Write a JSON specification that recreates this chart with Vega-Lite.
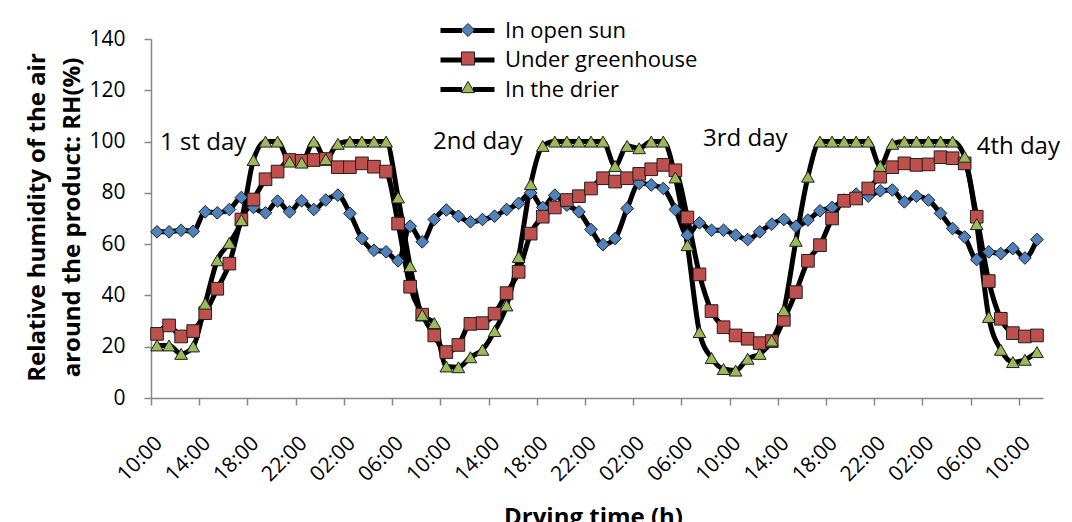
{
  "$schema": "https://vega.github.io/schema/vega-lite/v6.json",
  "width": 892,
  "height": 359,
  "autosize": "none",
  "padding": {"left": 151, "top": 39, "right": 29, "bottom": 124},
  "background": "white",
  "config": {
    "font": "Open Sans",
    "view": {"stroke": null},
    "axis": {"grid": false, "domainColor": "#868686", "tickColor": "#868686", "domainWidth": 1.5, "tickWidth": 1.5, "tickSize": 7, "labelColor": "black", "titleColor": "black", "labelFontSize": 21}
  },
  "data": {
    "values": [
      {"t":0,"In open sun":64.8,"Under greenhouse":25,"In the drier":20.5},
      {"t":1,"In open sun":64.8,"Under greenhouse":28.3,"In the drier":20.5},
      {"t":2,"In open sun":65.4,"Under greenhouse":24,"In the drier":17.2},
      {"t":3,"In open sun":65,"Under greenhouse":26.1,"In the drier":20.1},
      {"t":4,"In open sun":72.6,"Under greenhouse":33.1,"In the drier":36.8},
      {"t":5,"In open sun":72.2,"Under greenhouse":42.6,"In the drier":53.7},
      {"t":6,"In open sun":73.5,"Under greenhouse":52.4,"In the drier":60.5},
      {"t":7,"In open sun":78.2,"Under greenhouse":69.6,"In the drier":69.4},
      {"t":8,"In open sun":74.3,"Under greenhouse":77.4,"In the drier":92.8},
      {"t":9,"In open sun":72.2,"Under greenhouse":85.3,"In the drier":100},
      {"t":10,"In open sun":76.8,"Under greenhouse":88.3,"In the drier":100},
      {"t":11,"In open sun":72.6,"Under greenhouse":92.8,"In the drier":92.2},
      {"t":12,"In open sun":76.9,"Under greenhouse":92.5,"In the drier":91.8},
      {"t":13,"In open sun":73.5,"Under greenhouse":92.8,"In the drier":100},
      {"t":14,"In open sun":77.2,"Under greenhouse":93.2,"In the drier":93.1},
      {"t":15,"In open sun":79.1,"Under greenhouse":90,"In the drier":99.1},
      {"t":16,"In open sun":72,"Under greenhouse":90,"In the drier":100},
      {"t":17,"In open sun":62.2,"Under greenhouse":91.5,"In the drier":100},
      {"t":18,"In open sun":57.6,"Under greenhouse":90.2,"In the drier":100},
      {"t":19,"In open sun":57,"Under greenhouse":88.3,"In the drier":100},
      {"t":20,"In open sun":53.5,"Under greenhouse":68,"In the drier":78.2},
      {"t":21,"In open sun":67,"Under greenhouse":43.4,"In the drier":51.4},
      {"t":22,"In open sun":60.9,"Under greenhouse":32.5,"In the drier":32.4},
      {"t":23,"In open sun":69.6,"Under greenhouse":24.4,"In the drier":29.2},
      {"t":24,"In open sun":73.3,"Under greenhouse":17.9,"In the drier":12.3},
      {"t":25,"In open sun":70.9,"Under greenhouse":20.7,"In the drier":12},
      {"t":26,"In open sun":68.7,"Under greenhouse":28.9,"In the drier":15.9},
      {"t":27,"In open sun":69.6,"Under greenhouse":29.2,"In the drier":18.8},
      {"t":28,"In open sun":70.9,"Under greenhouse":32.9,"In the drier":26.1},
      {"t":29,"In open sun":73.5,"Under greenhouse":40.9,"In the drier":36.1},
      {"t":30,"In open sun":75.9,"Under greenhouse":49.2,"In the drier":55},
      {"t":31,"In open sun":80,"Under greenhouse":64.1,"In the drier":83.4},
      {"t":32,"In open sun":74.3,"Under greenhouse":70.7,"In the drier":98.3},
      {"t":33,"In open sun":79.1,"Under greenhouse":74.3,"In the drier":100},
      {"t":34,"In open sun":75.2,"Under greenhouse":77.2,"In the drier":100},
      {"t":35,"In open sun":72.6,"Under greenhouse":78.7,"In the drier":100},
      {"t":36,"In open sun":65.7,"Under greenhouse":81.7,"In the drier":100},
      {"t":37,"In open sun":59.8,"Under greenhouse":85.7,"In the drier":100},
      {"t":38,"In open sun":62.2,"Under greenhouse":84.4,"In the drier":90.5},
      {"t":39,"In open sun":73.9,"Under greenhouse":85.7,"In the drier":98.3},
      {"t":40,"In open sun":83.7,"Under greenhouse":87.4,"In the drier":97.4},
      {"t":41,"In open sun":83.1,"Under greenhouse":89.2,"In the drier":100},
      {"t":42,"In open sun":81.7,"Under greenhouse":90.9,"In the drier":100},
      {"t":43,"In open sun":73.5,"Under greenhouse":88.8,"In the drier":86},
      {"t":44,"In open sun":63.5,"Under greenhouse":70.4,"In the drier":59.6},
      {"t":45,"In open sun":68.3,"Under greenhouse":48.2,"In the drier":25.7},
      {"t":46,"In open sun":65.4,"Under greenhouse":33.9,"In the drier":15.6},
      {"t":47,"In open sun":65.4,"Under greenhouse":27.6,"In the drier":11.3},
      {"t":48,"In open sun":63.5,"Under greenhouse":24.4,"In the drier":10.7},
      {"t":49,"In open sun":61.8,"Under greenhouse":23.1,"In the drier":15.3},
      {"t":50,"In open sun":64.8,"Under greenhouse":21.4,"In the drier":17.2},
      {"t":51,"In open sun":67.8,"Under greenhouse":22.2,"In the drier":22.4},
      {"t":52,"In open sun":69.6,"Under greenhouse":30.5,"In the drier":34.2},
      {"t":53,"In open sun":67,"Under greenhouse":41.3,"In the drier":61.3},
      {"t":54,"In open sun":69.4,"Under greenhouse":53.5,"In the drier":86.3},
      {"t":55,"In open sun":73,"Under greenhouse":59.6,"In the drier":100},
      {"t":56,"In open sun":74.3,"Under greenhouse":70,"In the drier":100},
      {"t":57,"In open sun":77.2,"Under greenhouse":76.9,"In the drier":100},
      {"t":58,"In open sun":79.5,"Under greenhouse":77.8,"In the drier":100},
      {"t":59,"In open sun":78.7,"Under greenhouse":81.7,"In the drier":100},
      {"t":60,"In open sun":80.8,"Under greenhouse":86.3,"In the drier":90.5},
      {"t":61,"In open sun":81.1,"Under greenhouse":90,"In the drier":99.1},
      {"t":62,"In open sun":76.5,"Under greenhouse":91.5,"In the drier":100},
      {"t":63,"In open sun":78.7,"Under greenhouse":90.9,"In the drier":100},
      {"t":64,"In open sun":77.2,"Under greenhouse":91.1,"In the drier":100},
      {"t":65,"In open sun":72,"Under greenhouse":93.9,"In the drier":100},
      {"t":66,"In open sun":66.1,"Under greenhouse":93.5,"In the drier":100},
      {"t":67,"In open sun":62.8,"Under greenhouse":91.5,"In the drier":94.1},
      {"t":68,"In open sun":54,"Under greenhouse":70.7,"In the drier":67.8},
      {"t":69,"In open sun":57,"Under greenhouse":45.6,"In the drier":31.6},
      {"t":70,"In open sun":56.3,"Under greenhouse":30.9,"In the drier":18.8},
      {"t":71,"In open sun":58.3,"Under greenhouse":25.3,"In the drier":14},
      {"t":72,"In open sun":54.6,"Under greenhouse":24,"In the drier":14.9},
      {"t":73,"In open sun":61.8,"Under greenhouse":24.4,"In the drier":17.9}
    ]
  },
  "layer": [
    {
      "transform": [{"fold": ["In open sun", "Under greenhouse", "In the drier"], "as": ["series", "rh"]}],
      "mark": {"type": "line", "interpolate": "monotone", "strokeWidth": 5, "strokeJoin": "round"},
      "encoding": {
        "x": {
          "field": "t", "type": "quantitative",
          "scale": {"domain": [-0.5, 73.5], "nice": false, "zero": false},
          "axis": {
            "values": [-0.5,1.5,3.5,5.5,7.5,9.5,11.5,13.5,15.5,17.5,19.5,21.5,23.5,25.5,27.5,29.5,31.5,33.5,35.5,37.5,39.5,41.5,43.5,45.5,47.5,49.5,51.5,53.5,55.5,57.5,59.5,61.5,63.5,65.5,67.5,69.5,71.5,73.5],
            "labelExpr": "(datum.value + 0.5) % 4 == 0 ? (((10 + datum.value + 0.5) % 24 < 10 ? '0' : '') + ((10 + datum.value + 0.5) % 24) + ':00') : ''",
            "labelAngle": -45, "labelAlign": "right", "labelBaseline": "top",
            "labelDx": 2.5, "labelDy": 2.5, "labelOverlap": false, "labelBound": false, "labelFlush": false,
            "labelPadding": 27,
            "title": "Drying time (h)", "titleFontSize": 24, "titleFontWeight": "bold",
            "titleX": 442, "titleY": 107, "titleBaseline": "top"
          }
        },
        "y": {
          "field": "rh", "type": "quantitative",
          "scale": {"domain": [0, 140], "nice": false},
          "axis": {
            "values": [0,20,40,60,80,100,120,140],
            "labelPadding": 19,
            "title": ["Relative humidity of the air", "around the product: RH(%)"],
            "titleFontSize": 24, "titleFontWeight": "bold", "titleAngle": 270,
            "titleX": -114, "titleY": 178, "titleAlign": "center", "titleBaseline": "middle", "titleLineHeight": 35
          }
        },
        "stroke": {
          "field": "series", "type": "nominal", "sort": ["In open sun", "Under greenhouse", "In the drier"],
          "scale": {"range": ["#000000", "#000000", "#000000"]},
          "legend": {
            "orient": "none", "legendX": 305, "legendY": -20, "title": null, "padding": 0, "zindex": 1,
            "symbolType": "M-3,0H-0.6M0.6,0H3", "symbolStrokeWidth": 5, "symbolSize": 324, "symbolStrokeColor": "#000000",
            "labelFontSize": 22, "labelColor": "black", "labelOffset": 26, "labelLimit": 400, "rowPadding": 6.5
          }
        }
      }
    },
    {
      "transform": [{"fold": ["In open sun", "Under greenhouse", "In the drier"], "as": ["series", "rh"]}],
      "mark": {"type": "point", "filled": true, "size": 160, "opacity": 1, "stroke": "#1f1f1f", "strokeWidth": 1},
      "encoding": {
        "x": {"field": "t", "type": "quantitative"},
        "y": {"field": "rh", "type": "quantitative"},
        "shape": {
          "field": "series", "type": "nominal",
          "scale": {"domain": ["In open sun", "Under greenhouse", "In the drier"], "range": ["diamond", "square", "triangle-up"]},
          "legend": {
            "orient": "none", "legendX": 306, "legendY": -20, "title": null, "padding": 0, "zindex": 2,
            "symbolSize": 170, "symbolStrokeColor": "#1f1f1f", "symbolStrokeWidth": 1,
            "labelFontSize": 22, "labelOpacity": 0, "labelLimit": 400, "rowPadding": 6.5
          }
        },
        "color": {
          "field": "series", "type": "nominal",
          "scale": {"domain": ["In open sun", "Under greenhouse", "In the drier"], "range": ["#4F81BD", "#C0504D", "#9BBB59"]},
          "legend": {
            "orient": "none", "legendX": 306, "legendY": -20, "title": null, "padding": 0, "zindex": 2,
            "symbolSize": 170, "symbolStrokeColor": "#1f1f1f", "symbolStrokeWidth": 1,
            "labelFontSize": 22, "labelOpacity": 0, "labelLimit": 400, "rowPadding": 6.5
          }
        }
      }
    },
    {
      "data": {"values": [
        {"x": 0.25, "y": 99.4, "label": "1 st day"},
        {"x": 22.9, "y": 99.8, "label": "2nd day"},
        {"x": 45.3, "y": 101, "label": "3rd day"},
        {"x": 68.0, "y": 97.9, "label": "4th day"}
      ]},
      "mark": {"type": "text", "align": "left", "baseline": "middle", "fontSize": 24, "color": "black"},
      "encoding": {
        "x": {"field": "x", "type": "quantitative"},
        "y": {"field": "y", "type": "quantitative"},
        "text": {"field": "label"}
      }
    }
  ]
}
